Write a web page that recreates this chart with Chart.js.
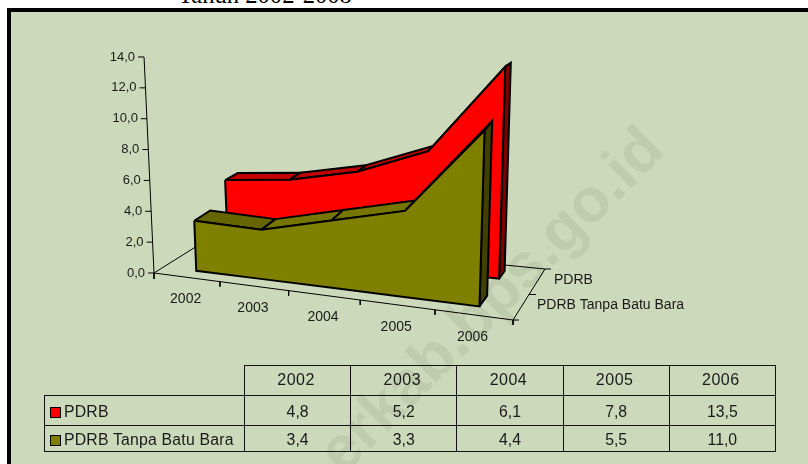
<!DOCTYPE html>
<html><head><meta charset="utf-8">
<script src="https://cdn.jsdelivr.net/npm/chart.js@4/dist/chart.umd.min.js"></script>
<style>
html,body{margin:0;padding:0;background:#fff;width:808px;height:464px;overflow:hidden}
#title{position:absolute;left:178px;top:-19px;font:24.6px "Liberation Serif",serif;color:#000;white-space:nowrap;line-height:28px}
#panel{position:absolute;left:7px;top:8px;width:801px;height:456px;box-sizing:border-box;border-left:4px solid #000;border-top:4px solid #000;background:#CDD9BB;overflow:hidden}
#wm{position:absolute;right:0;top:0;font:bold 62px "Liberation Sans",sans-serif;color:#BFCCAE;white-space:nowrap;line-height:62px;transform-origin:100% 100%}
canvas{position:absolute;left:0;top:0}
table{position:absolute;left:44px;top:365px;border-collapse:collapse;table-layout:fixed;width:731px;font:15.8px "Liberation Sans",sans-serif;color:#1a1a1a}
td{border:1px solid #111;padding:0;text-align:center;box-sizing:border-box;overflow:hidden;white-space:nowrap}
td.blank{border:none;border-right:1px solid #111;border-bottom:1px solid #111}
td.lab{text-align:left;padding-left:5px;letter-spacing:.2px}
tr.h td{height:30px;letter-spacing:.5px;font-size:16px;padding-right:3px;padding-bottom:2px}
tr.h td.blank{padding:0}
tr.a td{height:30px;padding-top:3px}
tr.b td{height:26px;padding-top:2px}
.key{display:inline-block;width:9px;height:9px;border:1.5px solid #000;margin-right:3px;vertical-align:-1px}
</style></head><body>
<div id="title">Tahun 2002-2008</div>
<div id="panel"><div id="wm"></div></div>
<canvas id="c" width="808" height="464"></canvas>
<table id="t"></table>
<script>
const categories = ['2002','2003','2004','2005','2006'];
const pdrb = [4.8,5.2,6.1,7.8,13.5];
const pdrbTanpaBatuBara = [3.4,3.3,4.4,5.5,11.0];
const seriesNames = ['PDRB','PDRB Tanpa Batu Bara'];
const valueTicks = [0,2,4,6,8,10,12,14];
const valueTickLabels = ['0,0','2,0','4,0','6,0','8,0','10,0','12,0','14,0'];
const tableRowsText = [['4,8','5,2','6,1','7,8','13,5'],['3,4','3,3','4,4','5,5','11,0']];

// Oblique 3-D view: floor corners and how height grows across the scene
const view = {
  frontL:[154,273], frontR:[513,320], backL:[213,236], backR:[545,269],
  persp:0.1, s0:14.64, sT:1.6, sW:-0.5, lean0:-0.7, leanT:1.3,
  axisScale:15.43, axisLean:-0.71, flare:0.08
};
const lanes = {red:[0.73,0.88,0.2], olive:[0.17,0.38,0]};
const colors = {
  red:{front:'#FF0000', top:'#C00000', top2:'#C00000', side:'#800000'},
  olive:{front:'#808000', top:'#666600', top2:'#757500', side:'#404000'}
};
const lerp=(a,b,t)=>[a[0]+(b[0]-a[0])*t,a[1]+(b[1]-a[1])*t];
function floorT(u){return u*(1-view.persp)/(1-view.persp*u);}
function project(u,w,v,shrink){
  const t=floorT(u);
  const p=lerp(lerp(view.frontL,view.frontR,t),lerp(view.backL,view.backR,t),w);
  const s=view.s0+view.sT*t+view.sW*w-(shrink||0), l=view.lean0+view.leanT*t;
  return {x:p[0]+v*l,y:p[1]-v*s};
}
const backW=(wb,u)=>wb+view.flare*(1-floorT(u));
const catU=i=>(i+0.5)/categories.length;
const axisPt=v=>({x:view.frontL[0]+v*view.axisLean,y:view.frontL[1]-v*view.axisScale});
const closed=a=>a.concat([a[0]]);
const GAP={x:NaN,y:NaN};

function face(points,fill,z){
  return {data:closed(points),backgroundColor:fill,borderColor:'#000',borderWidth:2,fill:'shape',showLine:true,
    pointRadius:0,tension:0,order:z,borderJoinStyle:'miter'};
}
function lineSet(points,z,w){
  return {data:points,borderColor:'#000',borderWidth:w||1,fill:false,showLine:true,pointRadius:0,tension:0,order:z,spanGaps:false};
}
let z=1000;
const datasets=[];
// floor and axes
const pt=a=>({x:a[0],y:a[1]});
const segs=[];
for(let i=1;i<=categories.length;i++){const q=project(i/categories.length,0,0);segs.push(q,{x:q.x,y:q.y+5},GAP);}
segs.push(pt(view.frontL),{x:view.frontL[0],y:view.frontL[1]+6},GAP);
const dm=lerp(view.frontR,view.backR,0.5);
segs.push(pt(view.frontR),{x:view.frontR[0]+6,y:view.frontR[1]},GAP);
segs.push(pt(dm),{x:dm[0]+7,y:dm[1]},GAP);
segs.push(pt(view.backR),{x:view.backR[0]+6,y:view.backR[1]},GAP);
valueTicks.forEach(v=>{const q=axisPt(v);segs.push(q,{x:q.x-6,y:q.y},GAP);});
datasets.push(lineSet(segs,z--,1));
datasets.push(lineSet([axisPt(14),axisPt(0)],z--,1));
datasets.push(lineSet([pt(view.frontL),pt(view.frontR),pt(view.backR),pt(view.backL),pt(view.frontL)],z--,1));

function addSeries(values,lane,col){
  const [wf,wb,k]=lane;const n=values.length;
  for(let i=0;i<n-1;i++){
    const down=values[i+1]<values[i];
    const u0=catU(i),u1=catU(i+1);
    datasets.push(face([project(u0,wf,values[i]),project(u1,wf,values[i+1]),project(u1,backW(wb,u1),values[i+1],k),project(u0,backW(wb,u0),values[i],k)],down?col.top:col.top2,z--));
  }
  const ue=catU(n-1);
  datasets.push(face([project(ue,wf,0),project(ue,wf,values[n-1]),project(ue,backW(wb,ue),values[n-1],k),project(ue,backW(wb,ue),0)],col.side,z--));
  const fr=[];
  values.forEach((v,i)=>fr.push(project(catU(i),wf,v)));
  for(let i=n-1;i>=0;i--)fr.push(project(catU(i),wf,0));
  datasets.push(face(fr,col.front,z--));
}
addSeries(pdrb,lanes.red,colors.red);
addSeries(pdrbTanpaBatuBara,lanes.olive,colors.olive);

const labelsPlugin={id:'labels3d',afterDatasetsDraw(chart){
  const {ctx,scales:{x,y}}=chart;
  ctx.save();ctx.fillStyle='#1a1a1a';ctx.textBaseline='middle';
  ctx.font='13px "Liberation Sans",sans-serif';ctx.textAlign='right';
  valueTicks.forEach((v,i)=>{const q=axisPt(v);ctx.fillText(valueTickLabels[i],x.getPixelForValue(q.x-9),y.getPixelForValue(q.y));});
  ctx.font='14px "Liberation Sans",sans-serif';ctx.textAlign='center';
  categories.forEach((c,i)=>{const q=project(catU(i),0,0);ctx.fillText(c,x.getPixelForValue(q.x-1),y.getPixelForValue(q.y+22));});
  ctx.textAlign='left';
  const m1=lerp(view.frontR,view.backR,0.75),m0=lerp(view.frontR,view.backR,0.25);
  ctx.fillText(seriesNames[0],x.getPixelForValue(m1[0]+17),y.getPixelForValue(m1[1]-2));
  ctx.fillText(seriesNames[1],x.getPixelForValue(m0[0]+16),y.getPixelForValue(m0[1]-2));
  ctx.restore();
}};

new Chart(document.getElementById('c'),{
  type:'scatter',
  data:{datasets},
  plugins:[labelsPlugin],
  options:{responsive:false,animation:false,layout:{padding:0},
    plugins:{legend:{display:false},tooltip:{enabled:false}},
    scales:{x:{type:'linear',display:false,min:0,max:808},y:{type:'linear',display:false,reverse:true,min:0,max:464}}}
});

// data table
const keyCols=[colors.red.front,colors.olive.front];
let html='<colgroup><col style="width:200px">'+categories.map(()=>'<col style="width:106.2px">').join('')+'</colgroup>';
html+='<tr class="h"><td class="blank"></td>'+categories.map(c=>'<td>'+c+'</td>').join('')+'</tr>';
seriesNames.forEach((s,r)=>{html+='<tr class="'+(r?'b':'a')+'"><td class="lab"><span class="key" style="background:'+keyCols[r]+'"></span>'+s+'</td>'+tableRowsText[r].map(v=>'<td>'+v+'</td>').join('')+'</tr>';});
document.getElementById('t').innerHTML=html;

// watermark
const wm=document.getElementById('wm');wm.textContent='erkab.bps.go.id';
wm.style.right='134px';wm.style.top='85px';wm.style.transform='rotate(-45deg)';
</script>
</body></html>
